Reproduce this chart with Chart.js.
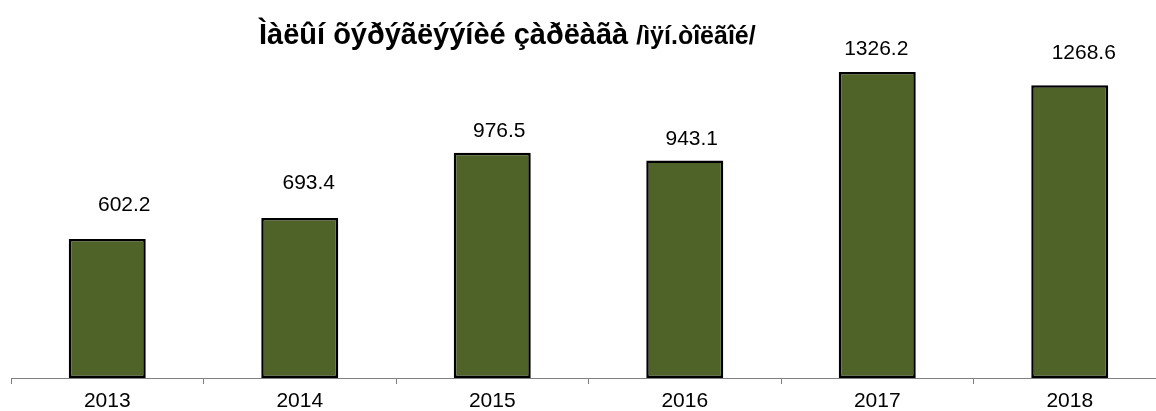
<!DOCTYPE html>
<html>
<head>
<meta charset="utf-8">
<script src="https://cdn.jsdelivr.net/npm/chart.js@4"></script>
<style>
html,body{margin:0;padding:0;background:#fff;overflow:hidden;}
#wrap{width:1180px;height:411px;}
</style>
</head>
<body>
<div id="wrap"><canvas id="c" width="1180" height="411"></canvas></div>
<script>
const categories = ["2013", "2014", "2015", "2016", "2017", "2018"];
const values = [602.2, 693.4, 976.5, 943.1, 1326.2, 1268.6];
const valueLabels = ["602.2", "693.4", "976.5", "943.1", "1326.2", "1268.6"];
const titleMain = "Ìàëûí õýðýãëýýíèé çàðëàãà";
const titleUnit = "/ìÿí.òîëãîé/";

const FONT = "'Liberation Sans', Arial, sans-serif";

const titlePlugin = {
  id: 'mixedTitle',
  afterDraw(chart) {
    const ctx = chart.ctx;
    ctx.save();
    ctx.fillStyle = '#000';
    ctx.textBaseline = 'alphabetic';
    ctx.textAlign = 'left';
    ctx.font = "bold 29px " + FONT;
    ctx.fillText(titleMain, 259, 44);
    const w1 = ctx.measureText(titleMain).width;
    ctx.font = "bold 25px " + FONT;
    ctx.fillText(titleUnit, 259 + w1 + 8, 44);
    ctx.restore();
  }
};

// label placement nudges (style only, in pixels relative to bar top centre)
const labelNudge = {
  dx: [17, 9, 7, 7, -1, 14],
  dy: [-34, -35, -22, -21, -23, -32]
};

const labelPlugin = {
  id: 'valLabels',
  afterDatasetsDraw(chart) {
    const ctx = chart.ctx;
    const meta = chart.getDatasetMeta(0);
    ctx.save();
    ctx.fillStyle = '#000';
    ctx.font = "21px " + FONT;
    ctx.textAlign = 'center';
    ctx.textBaseline = 'middle';
    meta.data.forEach((bar, i) => {
      ctx.fillText(valueLabels[i], bar.x + labelNudge.dx[i], bar.y + labelNudge.dy[i]);
    });
    ctx.restore();
  }
};

new Chart(document.getElementById('c'), {
  type: 'bar',
  data: {
    labels: categories,
    datasets: [{
      data: values,
      backgroundColor: '#4F6228',
      borderColor: '#000000',
      borderWidth: 2.5,
      borderSkipped: false,
      categoryPercentage: 0.4,
      barPercentage: 1.0
    }]
  },
  options: {
    responsive: false,
    animation: false,
    devicePixelRatio: 1,
    layout: { padding: { left: 11, right: 14, top: 55, bottom: 0 } },
    plugins: { legend: { display: false }, title: { display: false }, tooltip: { enabled: false } },
    scales: {
      x: {
        offset: true,
        afterFit(scale) { scale.height = 33; },
        grid: { offset: true, drawOnChartArea: false, drawTicks: true, tickLength: 6, color: '#808080', lineWidth: 1 },
        border: { display: true, color: '#808080', width: 1 },
        ticks: { color: '#000', font: { family: FONT, size: 21 }, padding: 5, maxRotation: 0 }
      },
      y: {
        display: false,
        min: 0,
        max: 1400
      }
    }
  },
  plugins: [titlePlugin, labelPlugin]
});
</script>
</body>
</html>
